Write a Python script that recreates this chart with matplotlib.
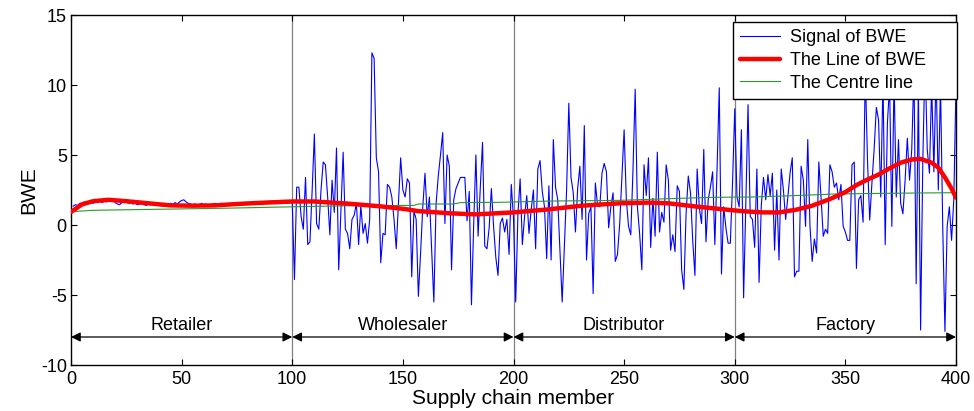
import matplotlib
matplotlib.use("Agg")
import matplotlib.pyplot as plt
import numpy as np

plt.rcParams['font.family'] = ['Liberation Sans', 'DejaVu Sans']
plt.rcParams['axes.unicode_minus'] = False

# ---- data -------------------------------------------------------------
retailer = [1.35,1.45,1.40,1.55,1.50,1.65,1.55,1.60,1.70,1.55,
            1.65,1.60,1.75,1.60,1.70,1.65,1.80,1.70,1.75,1.60,
            1.50,1.45,1.60,1.70,1.65,1.55,1.60,1.50,1.55,1.45,
            1.50,1.55,1.45,1.40,1.50,1.45,1.55,1.50,1.40,1.45,
            1.35,1.45,1.40,1.50,1.55,1.45,1.60,1.50,1.65,1.75,
            1.80,1.65,1.55,1.50,1.45,1.50,1.40,1.45,1.55,1.45,
            1.50,1.40,1.45,1.50,1.55,1.45,1.50,1.55,1.45,1.50,
            1.55,1.50,1.45,1.55,1.60,1.50,1.55,1.45,1.50,1.55,
            1.60,1.55,1.50,1.60,1.55,1.65,1.60,1.55,1.65,1.70,
            1.60,1.65,1.55,1.60,1.70,1.65,1.60,1.55,1.60,1.65]
wholesaler = [-3.9,2.7,2.7,0.6,-0.3,3.4,-1.4,-1.2,2.5,6.5,
              0.1,-0.3,2.5,4.5,4.3,2.0,-0.7,3.2,0.9,5.5,
              -3.2,1.0,5.2,-0.3,-0.6,-1.7,0.4,0.7,1.55,-1.4,
              1.4,-0.6,0.1,-1.3,0.4,12.3,11.9,4.8,3.8,-2.7,
              -0.6,-0.7,2.9,2.7,2.0,0.4,-1.7,1.5,4.8,2.5,
              2.0,3.3,3.0,-3.7,1.0,0.4,-5.1,-2.0,1.3,3.7,
              0.6,2.0,-1.8,-5.5,1.5,3.5,5.0,6.6,0.1,5.0,
              4.2,-3.2,1.8,2.6,3.0,3.4,3.4,3.4,0.3,2.4,
              -5.7,0.0,5.0,-0.8,2.7,5.9,-1.5,-1.7,-0.2,2.6,
              -0.1,-2.3,-3.6,0.1,0.5,-0.5,0.4,-2.1,2.9,0.5]
distributor = [-5.5,0.8,3.3,-1.4,0.6,2.1,-0.6,1.1,2.5,-1.7,
               4.0,4.6,2.4,1.3,-2.4,2.8,-2.5,6.1,2.7,1.8,
               -1.8,-5.5,-1.5,2.5,8.7,3.4,2.3,-0.5,2.6,4.2,
               0.4,7.1,-2.5,0.8,1.3,-4.9,3.0,1.4,1.3,3.7,
               4.4,3.8,-0.2,1.3,2.3,-2.6,-2.1,0.1,3.5,6.8,
               1.8,-0.1,-0.7,3.9,9.7,1.3,-0.6,-3.2,4.3,2.1,
               4.8,-1.6,1.9,-0.8,5.2,-0.5,0.9,0.2,4.3,3.2,
               -1.8,-0.7,-1.9,2.8,2.4,-3.2,-4.6,0.8,3.5,2.3,
               -1.1,-3.6,4.0,1.2,0.1,5.4,-1.2,1.8,2.7,3.8,
               -1.4,4.0,9.8,-3.5,1.3,-0.2,-1.3,-1.3,3.0,8.3]
factory = [2.0,1.3,6.8,-5.2,1.5,8.6,0.6,0.4,-1.6,4.0,
           -4.1,1.4,3.4,1.8,3.6,2.1,3.7,-1.8,2.5,-2.5,
           4.0,2.5,0.4,2.0,3.7,4.8,-3.7,-3.3,-3.3,4.2,
           3.2,-0.1,6.1,-0.1,-2.6,-1.0,-2.0,4.5,2.0,-0.8,
           -0.3,-0.6,4.3,3.8,2.7,3.0,1.8,2.9,-0.1,-0.5,
           -1.1,-1.1,4.3,4.5,-3.1,1.8,2.1,0.2,11.0,4.6,
           0.35,3.0,5.4,8.4,7.5,2.0,10.5,-1.4,7.3,10.0,
           -0.1,10.5,2.0,6.1,1.55,0.8,3.2,6.2,3.2,5.4,
           11.0,-4.2,10.0,-7.5,4.6,12.0,5.4,3.7,10.0,3.8,
           11.0,2.5,10.0,-0.1,-7.6,-0.1,1.3,-1.1,1.8,10.0]
signal = retailer + wholesaler + distributor + factory
signal_x = list(range(1, 401))

trend_x = [0,5,10,17,25,35,45,55,65,75,85,100,110,125,140,151,157,172,183,200,
           216,231,248,261,270,283,298,305,313,320,328,335,343,350,355,360,365,370,
           375,380,384,389,392,395,398,400]
trend_y = [0.93,1.48,1.7,1.8,1.7,1.55,1.4,1.38,1.4,1.5,1.58,1.68,1.68,1.53,1.33,1.14,0.99,0.83,0.76,0.9,
           1.12,1.38,1.55,1.6,1.55,1.31,1.07,0.97,0.9,0.9,1.1,1.38,1.85,2.35,2.85,3.25,3.6,4.05,
           4.45,4.68,4.72,4.45,4.1,3.4,2.6,1.95]

centre_x = [0,10,30,50,70,100,127,155,157,173,176,194,216,248,270,291,308,322,345,366,400]
centre_y = [0.95,1.05,1.1,1.15,1.2,1.3,1.38,1.4,1.5,1.5,1.6,1.62,1.71,1.76,1.88,1.98,2.0,2.07,2.21,2.26,2.31]

stages = ["Retailer", "Wholesaler", "Distributor", "Factory"]
stage_bounds = [0, 100, 200, 300, 400]
x_ticks = [0, 50, 100, 150, 200, 250, 300, 350, 400]
y_ticks = [-10, -5, 0, 5, 10, 15]

# ---- figure -----------------------------------------------------------
fig = plt.figure(figsize=(9.74, 4.11), dpi=100)
ax = fig.add_axes([71/974, 1-365/411, (956-71)/974, 350/411])

for b in stage_bounds[1:-1]:
    ax.axvline(b, color='#808080', lw=0.9, zorder=1)

ax.plot(signal_x, signal, color='#0000ff', lw=0.8, label='Signal of BWE', zorder=3)
ax.plot(trend_x, trend_y, color='#ff0000', lw=3.2, label='The Line of BWE', zorder=4,
        solid_capstyle='round', solid_joinstyle='round')
ax.plot(centre_x, centre_y, color='#2a992a', lw=0.8, label='The Centre line', zorder=3)

for i, name in enumerate(stages):
    x0, x1 = stage_bounds[i], stage_bounds[i+1]
    ax.annotate('', xy=(x0, -8), xytext=(x1, -8),
                arrowprops=dict(arrowstyle='<|-|>', color='black', lw=0.9,
                                mutation_scale=14, shrinkA=0, shrinkB=0), zorder=5)
    ax.text((x0 + x1) / 2, -7.75, name, ha='center', va='bottom', fontsize=13)

ax.set_xlim(0, 400)
ax.set_ylim(-10, 15)
ax.set_xticks(x_ticks)
ax.set_yticks(y_ticks)
ax.tick_params(direction='in', top=True, right=True, length=4, labelsize=13)
ax.tick_params(axis='x', pad=4)
ax.tick_params(axis='y', pad=3)
for s in ax.spines.values():
    s.set_linewidth(1.0)
ax.set_xlabel('Supply chain member', fontsize=15, labelpad=1)
ax.set_ylabel('BWE', fontsize=15, labelpad=2)

lx0 = (733 - 71) / 885
lw_ = (957 - 733) / 885
ly1 = (365 - 22) / 350
ly0 = (365 - 99) / 350
leg = ax.legend(loc='upper left', bbox_to_anchor=(lx0, ly0, lw_, ly1 - ly0), mode='expand',
                borderaxespad=0, fancybox=False, framealpha=1, edgecolor='black', fontsize=13,
                handlelength=2.2, labelspacing=0.33, borderpad=0.38, handletextpad=0.55)
leg.get_frame().set_linewidth(1.0)
leg.set_zorder(10)

fig.savefig('out.png', dpi=100)
